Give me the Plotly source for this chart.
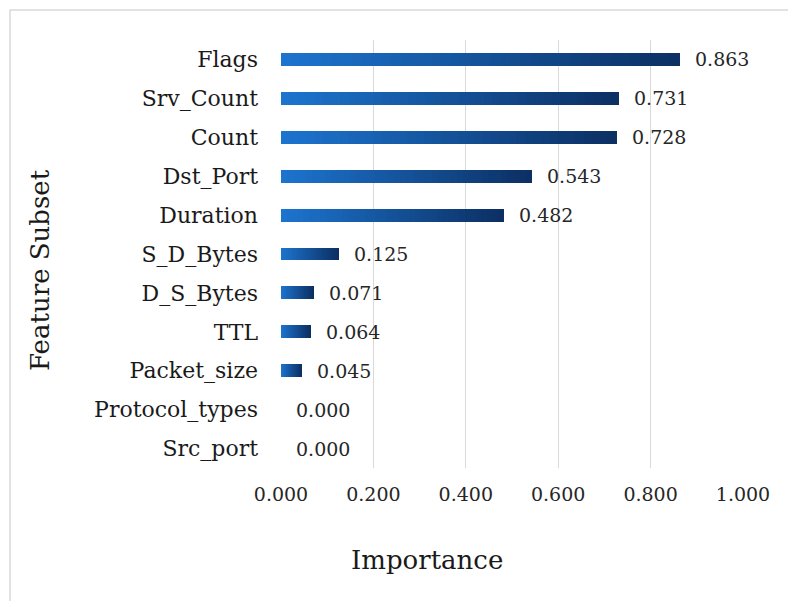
import plotly.graph_objects as go

features = ["Flags", "Srv_Count", "Count", "Dst_Port", "Duration", "S_D_Bytes",
            "D_S_Bytes", "TTL", "Packet_size", "Protocol_types", "Src_port"]
importance = [0.863, 0.731, 0.728, 0.543, 0.482, 0.125, 0.071, 0.064, 0.045, 0.000, 0.000]
x_ticks = [0.0, 0.2, 0.4, 0.6, 0.8, 1.0]
x_tick_labels = ["0.000", "0.200", "0.400", "0.600", "0.800", "1.000"]

FONT = "DejaVu Serif"
c_start = (28, 116, 206)
c_end = (12, 48, 100)
N = 40

fig = go.Figure()
for i in range(N):
    t = i / (N - 1)
    col = "rgb(%d,%d,%d)" % tuple(round(a + (b - a) * t) for a, b in zip(c_start, c_end))
    fig.add_trace(go.Bar(
        y=features, x=[v / N for v in importance], orientation="h",
        marker=dict(color=col, line=dict(width=0)), showlegend=False,
        hoverinfo="skip"))

for f, v in zip(features, importance):
    fig.add_annotation(x=v, y=f, xref="x", yref="y", text="%.3f" % v,
                       showarrow=False, xanchor="left", xshift=13,
                       font=dict(family=FONT, size=19, color="#262626"))

fig.add_annotation(x=(427 - 281) / 462, y=-(560 - 468) / 428, xref="paper", yref="paper",
                   text="Importance", showarrow=False, xanchor="center", yanchor="middle",
                   font=dict(family=FONT, size=26, color="#1a1a1a"))
fig.add_annotation(x=-(281 - 40) / 462, y=1 - (270 - 40) / 428, xref="paper", yref="paper",
                   text="Feature Subset", showarrow=False, textangle=-90,
                   xanchor="center", yanchor="middle",
                   font=dict(family=FONT, size=26, color="#1a1a1a"))

# chart-area border (left & top visible)
fig.add_shape(type="rect", xref="paper", yref="paper",
              x0=-(281 - 10) / 462, x1=(800 - 281) / 462,
              y0=-(620 - 468) / 428, y1=1 + (40 - 10) / 428,
              line=dict(color="#d9d9d9", width=1.5), fillcolor="rgba(0,0,0,0)", layer="below")

fig.update_layout(
    barmode="stack", bargap=0.67,
    width=788, height=601,
    margin=dict(l=281, r=45, t=40, b=133),
    paper_bgcolor="white", plot_bgcolor="white",
    font=dict(family=FONT, color="#1a1a1a"),
    xaxis=dict(range=[0, 1.0], tickvals=x_ticks, ticktext=x_tick_labels,
               showgrid=True, gridcolor="#d9d9d9", gridwidth=1, zeroline=False,
               showline=False, tickfont=dict(family=FONT, size=19, color="#262626"),
               ticklabelstandoff=13, fixedrange=True),
    yaxis=dict(categoryorder="array", categoryarray=features, autorange="reversed",
               showgrid=False, showline=False, zeroline=False,
               tickfont=dict(family=FONT, size=22, color="#1a1a1a"),
               ticklabelstandoff=22),
)

fig.write_html("out.html")
